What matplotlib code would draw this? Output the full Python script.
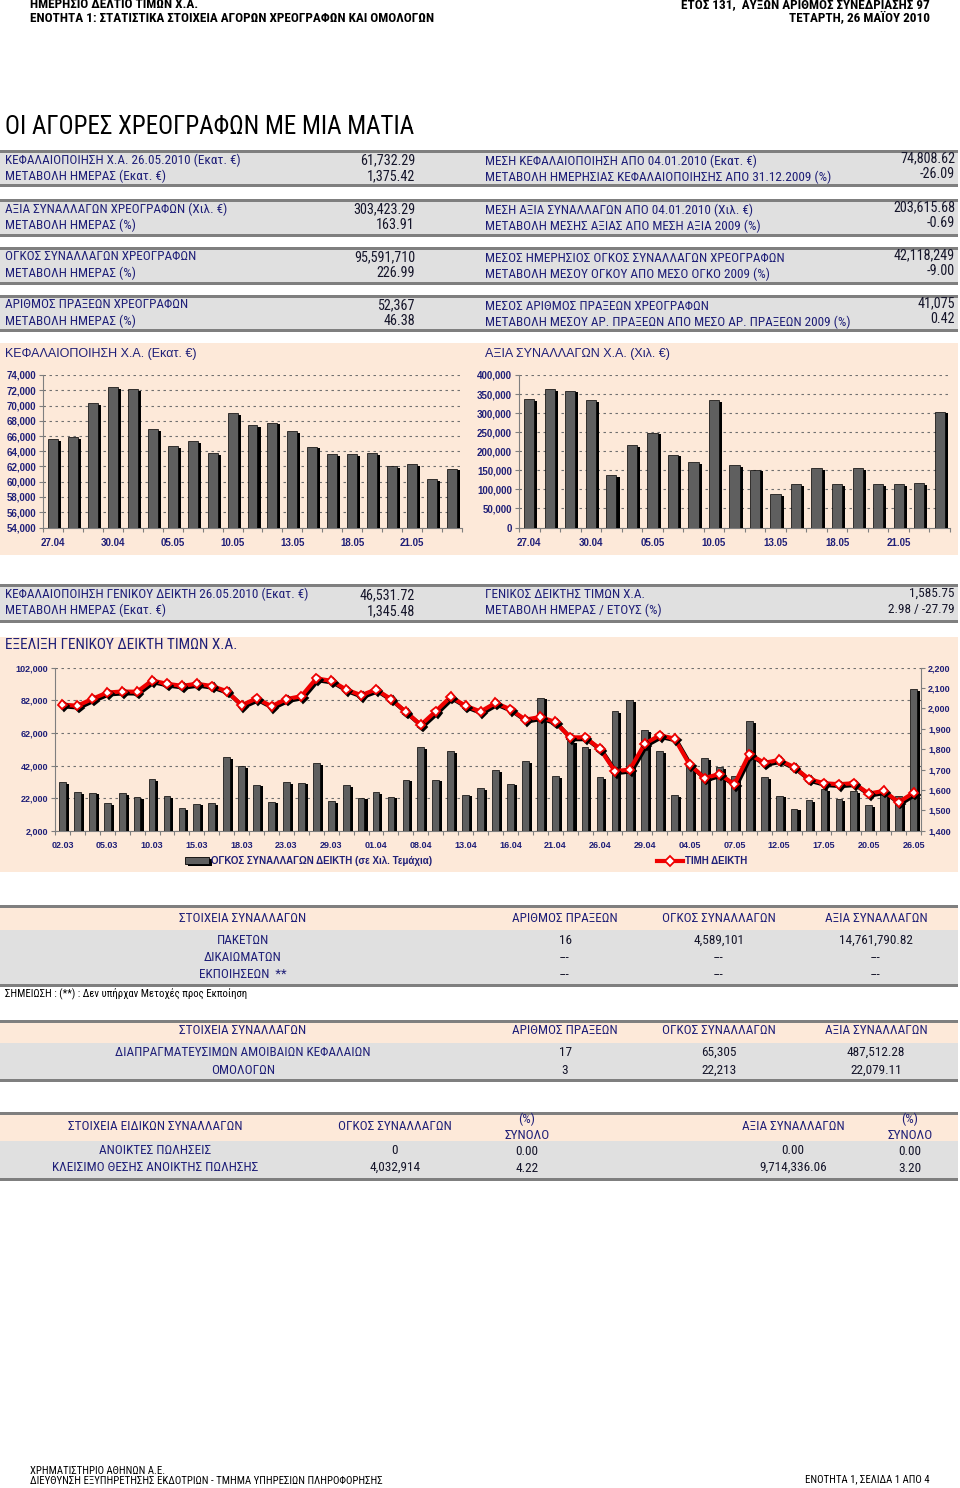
import numpy as np
import matplotlib
matplotlib.use('Agg')
import matplotlib.pyplot as plt
from matplotlib import font_manager, patheffects as pe
from matplotlib.font_manager import FontProperties
from matplotlib.patches import Rectangle
from matplotlib.lines import Line2D

SANS = 'Liberation Sans'
plt.rcParams['font.family'] = [SANS, 'DejaVu Sans']


# look for a condensed face for the table text (Arial Narrow look)
def wnum(w):
    if isinstance(w, int):
        return w
    return {'bold': 700, 'normal': 400, 'regular': 400, 'book': 400}.get(str(w).lower(), 400)


def find_narrow():
    pref = [('Liberation Sans Narrow', 1.2), ('Roboto Condensed', 1.12), ('Open Sans Condensed', 1.1),
            ('Noto Sans', 1.12), ('Open Sans', 1.1), ('Roboto', 1.12), ('Inter', 1.1),
            ('DejaVu Sans Condensed', 1.0), ('DejaVu Sans', 1.0)]
    fl = font_manager.fontManager.ttflist
    for fam, k in pref:
        narrow_name = 'Narrow' in fam or 'Condensed' in fam
        reg = bold = None
        for f in fl:
            if f.name != fam or f.style != 'normal':
                continue
            if not narrow_name and f.stretch in ('normal', 500):
                continue
            if f.stretch in ('ultra-condensed', 'extra-condensed'):
                continue
            w = wnum(f.weight)
            if w == 400 and reg is None:
                reg = f.fname
            if w == 700 and bold is None:
                bold = f.fname
        if reg:
            return reg, bold or reg, k
    return None, None, 1.0


NREG, NBOLD, NK = find_narrow()
NK *= 1.07

NAVY = '#1f1f78'
INK = '#15152a'
PEACH = '#fde9d9'
ROWG = '#e0e0e0'
LINEG = '#7f7f7f'
BARC = '#5f5f5f'

# ---- data ----
top_left_labels = ['ΚΕΦΑΛΑΙΟΠΟΙΗΣΗ Χ.Α. 26.05.2010 (Εκατ. €)', 'ΜΕΤΑΒΟΛΗ ΗΜΕΡΑΣ (Εκατ. €)',
                   'ΑΞΙΑ ΣΥΝΑΛΛΑΓΩΝ ΧΡΕΟΓΡΑΦΩΝ (Χιλ. €)', 'ΜΕΤΑΒΟΛΗ ΗΜΕΡΑΣ (%)',
                   'ΟΓΚΟΣ ΣΥΝΑΛΛΑΓΩΝ ΧΡΕΟΓΡΑΦΩΝ', 'ΜΕΤΑΒΟΛΗ ΗΜΕΡΑΣ (%)',
                   'ΑΡΙΘΜΟΣ ΠΡΑΞΕΩΝ ΧΡΕΟΓΡΑΦΩΝ', 'ΜΕΤΑΒΟΛΗ ΗΜΕΡΑΣ (%)']
top_left_values = ['61,732.29', '1,375.42', '303,423.29', '163.91',
                   '95,591,710', '226.99', '52,367', '46.38']
top_right_labels = ['ΜΕΣΗ ΚΕΦΑΛΑΙΟΠΟΙΗΣΗ ΑΠΟ 04.01.2010 (Εκατ. €)',
                    'ΜΕΤΑΒΟΛΗ ΗΜΕΡΗΣΙΑΣ ΚΕΦΑΛΑΙΟΠΟΙΗΣΗΣ ΑΠΟ 31.12.2009 (%)',
                    'ΜΕΣΗ ΑΞΙΑ ΣΥΝΑΛΛΑΓΩΝ ΑΠΟ 04.01.2010 (Χιλ. €)',
                    'ΜΕΤΑΒΟΛΗ ΜΕΣΗΣ ΑΞΙΑΣ ΑΠΟ ΜΕΣΗ ΑΞΙΑ 2009 (%)',
                    'ΜΕΣΟΣ ΗΜΕΡΗΣΙΟΣ ΟΓΚΟΣ ΣΥΝΑΛΛΑΓΩΝ ΧΡΕΟΓΡΑΦΩΝ',
                    'ΜΕΤΑΒΟΛΗ ΜΕΣΟΥ ΟΓΚΟΥ ΑΠΟ ΜΕΣΟ ΟΓΚΟ 2009 (%)',
                    'ΜΕΣΟΣ ΑΡΙΘΜΟΣ ΠΡΑΞΕΩΝ ΧΡΕΟΓΡΑΦΩΝ',
                    'ΜΕΤΑΒΟΛΗ ΜΕΣΟΥ ΑΡ. ΠΡΑΞΕΩΝ ΑΠΟ ΜΕΣΟ ΑΡ. ΠΡΑΞΕΩΝ 2009 (%)']
top_right_values = ['74,808.62', '-26.09', '203,615.68', '-0.69',
                    '42,118,249', '-9.00', '41,075', '0.42']

dates_top = ['27.04', '28.04', '29.04', '30.04', '03.05', '04.05', '05.05', '06.05',
             '07.05', '10.05', '11.05', '12.05', '13.05', '14.05', '17.05', '18.05',
             '19.05', '20.05', '21.05', '25.05', '26.05']
cap_values = [65550, 65860, 70280, 72400, 72100, 66910, 64630, 65290, 63720, 69010,
              67390, 67740, 66650, 64590, 63630, 63590, 63760, 62030, 62320, 60350, 61732]
value_values = [336400, 363400, 359000, 334600, 137700, 215300, 248400, 190800, 171700,
                333800, 163800, 151600, 88000, 114200, 156000, 114200, 155100, 114200,
                114200, 115900, 303423]

gi_left_labels = ['ΚΕΦΑΛΑΙΟΠΟΙΗΣΗ ΓΕΝΙΚΟΥ ΔΕΙΚΤΗ 26.05.2010 (Εκατ. €)', 'ΜΕΤΑΒΟΛΗ ΗΜΕΡΑΣ (Εκατ. €)']
gi_left_values = ['46,531.72', '1,345.48']
gi_right_labels = ['ΓΕΝΙΚΟΣ ΔΕΙΚΤΗΣ ΤΙΜΩΝ Χ.Α.', 'ΜΕΤΑΒΟΛΗ ΗΜΕΡΑΣ / ΕΤΟΥΣ (%)']
gi_right_values = ['1,585.75', '2.98 / -27.79']

dates_idx = ['02.03', '03.03', '04.03', '05.03', '08.03', '09.03', '10.03', '11.03', '12.03',
             '15.03', '16.03', '17.03', '18.03', '19.03', '22.03', '23.03', '24.03', '26.03',
             '29.03', '30.03', '31.03', '01.04', '06.04', '07.04', '08.04', '09.04', '12.04',
             '13.04', '14.04', '15.04', '16.04', '19.04', '20.04', '21.04', '22.04', '23.04',
             '26.04', '27.04', '28.04', '29.04', '30.04', '03.05', '04.05', '05.05', '06.05',
             '07.05', '10.05', '11.05', '12.05', '13.05', '14.05', '17.05', '18.05', '19.05',
             '20.05', '21.05', '25.05', '26.05']
idx_volume = [31650, 25700, 25300, 18800, 24900, 22650, 33500, 23060, 15700, 18560,
              18770, 47000, 41670, 30220, 19800, 31650, 31450, 43500, 20200, 30000,
              22250, 25500, 22860, 33300, 53100, 33300, 50900, 24100, 28200, 39200,
              30800, 44700, 83600, 35500, 57000, 53100, 34700, 75400, 82000, 63800,
              50700, 23700, 41300, 46400, 40900, 35300, 69300, 34700, 23500, 15500,
              20800, 27400, 21200, 26300, 17700, 25300, 23100, 88900]
idx_price = [2019, 2013, 2047, 2078, 2083, 2082, 2137, 2121, 2111, 2121,
             2110, 2085, 2016, 2049, 2011, 2046, 2060, 2147, 2136, 2093,
             2065, 2093, 2046, 1983, 1919, 1986, 2057, 2013, 1985, 2027,
             1996, 1945, 1958, 1934, 1858, 1858, 1802, 1692, 1700, 1827,
             1868, 1852, 1725, 1658, 1678, 1627, 1776, 1733, 1747, 1712,
             1653, 1633, 1628, 1633, 1582, 1595, 1540, 1585.75]

trade_cols = ['ΣΤΟΙΧΕΙΑ ΣΥΝΑΛΛΑΓΩΝ', 'ΑΡΙΘΜΟΣ ΠΡΑΞΕΩΝ', 'ΟΓΚΟΣ ΣΥΝΑΛΛΑΓΩΝ', 'ΑΞΙΑ ΣΥΝΑΛΛΑΓΩΝ']
trade_rows = ['ΠΑΚΕΤΩΝ', 'ΔΙΚΑΙΩΜΑΤΩΝ', 'ΕΚΠΟΙΗΣΕΩΝ  **']
trade_vals = [['16', '4,589,101', '14,761,790.82'], ['---', '---', '---'], ['---', '---', '---']]
fund_rows = ['ΔΙΑΠΡΑΓΜΑΤΕΥΣΙΜΩΝ ΑΜΟΙΒΑΙΩΝ ΚΕΦΑΛΑΙΩΝ', 'ΟΜΟΛΟΓΩΝ']
fund_vals = [['17', '65,305', '487,512.28'], ['3', '22,213', '22,079.11']]
spec_cols = ['ΣΤΟΙΧΕΙΑ ΕΙΔΙΚΩΝ ΣΥΝΑΛΛΑΓΩΝ', 'ΟΓΚΟΣ ΣΥΝΑΛΛΑΓΩΝ', '(%)\nΣΥΝΟΛΟ', 'ΑΞΙΑ ΣΥΝΑΛΛΑΓΩΝ', '(%)\nΣΥΝΟΛΟ']
spec_rows = ['ΑΝΟΙΚΤΕΣ ΠΩΛΗΣΕΙΣ', 'ΚΛΕΙΣΙΜΟ ΘΕΣΗΣ ΑΝΟΙΚΤΗΣ ΠΩΛΗΣΗΣ']
spec_vals = [['0', '0.00', '0.00', '0.00'], ['4,032,914', '4.22', '9,714,336.06', '3.20']]

# ---- page ----
W, H = 960, 1488
fig = plt.figure(figsize=(9.6, 14.88), dpi=100)
pg = fig.add_axes([0, 0, 1, 1], zorder=0)
pg.set_xlim(0, W)
pg.set_ylim(H, 0)
pg.axis('off')


def box(x0, y0, x1, y1):
    return [x0 / W, 1 - y1 / H, (x1 - x0) / W, (y1 - y0) / H]


def rect(x0, y0, x1, y1, c):
    pg.add_patch(Rectangle((x0, y0), x1 - x0, y1 - y0, facecolor=c, edgecolor='none'))


def hline(y):
    rect(0, y - 1.5, 958, y + 1.5, LINEG)


def t(x, y, s, size=8, color=NAVY, ha='left', weight='normal', narrow=True):
    if narrow and NREG:
        fp = FontProperties(fname=NBOLD if weight == 'bold' else NREG, size=size * NK)
        pg.text(x, y, s, ha=ha, va='center', color=color, fontproperties=fp, linespacing=1.3)
    else:
        pg.text(x, y, s, ha=ha, va='center', fontsize=size, color=color,
                fontweight=weight, family=[SANS, 'DejaVu Sans'], linespacing=1.3)


# header
t(30, 5, 'ΗΜΕΡΗΣΙΟ ΔΕΛΤΙΟ ΤΙΜΩΝ Χ.Α.', 8, 'k', weight='bold')
t(930, 5, 'ΕΤΟΣ 131,  ΑΥΞΩΝ ΑΡΙΘΜΟΣ ΣΥΝΕΔΡΙΑΣΗΣ 97', 8, 'k', 'right', 'bold')
t(30, 19, 'ΕΝΟΤΗΤΑ 1: ΣΤΑΤΙΣΤΙΚΑ ΣΤΟΙΧΕΙΑ ΑΓΟΡΩΝ ΧΡΕΟΓΡΑΦΩΝ ΚΑΙ ΟΜΟΛΟΓΩΝ', 8, 'k', weight='bold')
t(930, 19, 'ΤΕΤΑΡΤΗ, 26 ΜΑΪΟΥ 2010', 8, 'k', 'right', 'bold')
t(5, 127, 'ΟΙ ΑΓΟΡΕΣ ΧΡΕΟΓΡΑΦΩΝ ΜΕ ΜΙΑ ΜΑΤΙΑ', 15, 'k')

# top summary blocks
blocks = [(151, 185), (200, 235), (248, 283), (296, 330)]
for b, (y0, y1) in enumerate(blocks):
    rect(0, y0, 958, y1, ROWG)
    hline(y0)
    hline(y1)
    for r in range(2):
        k = 2 * b + r
        y = y0 + 9 + 16 * r
        t(5, y, top_left_labels[k], 8)
        t(415, y, top_left_values[k], 8.5, INK, 'right')
        t(485, y + 1, top_right_labels[k], 8)
        t(955, y - 2, top_right_values[k], 8.5, INK, 'right')

# chart band 1
rect(0, 343, 958, 555, PEACH)
t(5, 354, 'ΚΕΦΑΛΑΙΟΠΟΙΗΣΗ Χ.Α. (Εκατ. €)', 9, narrow=False)
t(485, 354, 'ΑΞΙΑ ΣΥΝΑΛΛΑΓΩΝ Χ.Α. (Χιλ. €)', 9, narrow=False)

bar_fx = [pe.SimplePatchShadow(offset=(2.2, -1.2), shadow_rgbFace='k', alpha=1), pe.Normal()]


def style_axis(ax, size=7, pad=6):
    ax.set_facecolor('none')
    for s in ['top', 'right']:
        ax.spines[s].set_visible(False)
    for s in ['left', 'bottom']:
        ax.spines[s].set_color(LINEG)
        ax.spines[s].set_linewidth(0.8)
    ax.tick_params(axis='y', length=3, color=LINEG, labelcolor=NAVY, labelsize=size, pad=2)
    ax.tick_params(axis='x', which='major', length=0, labelcolor=NAVY, labelsize=size, pad=pad)
    ax.tick_params(axis='x', which='minor', length=3, color=LINEG, width=0.8)
    ax.yaxis.grid(True, linestyle=(0, (2.2, 3.2)), color='#6f6f6f', linewidth=0.8)
    ax.set_axisbelow(True)


def bar_panel(rect_px, values, dates, ylim, step):
    ax = fig.add_axes(box(*rect_px), zorder=2)
    x = np.arange(len(values))
    bars = ax.bar(x, values, width=0.5, color=BARC, edgecolor='k', linewidth=0.5, zorder=3)
    for b in bars:
        b.set_path_effects(bar_fx)
    ax.set_xlim(-0.5, len(values) - 0.5)
    ax.set_ylim(*ylim)
    ticks = np.arange(ylim[0], ylim[1] + 1, step)
    ax.set_yticks(ticks)
    ax.set_yticklabels([f'{v:,.0f}' for v in ticks], fontweight='bold')
    ax.set_xticks(x[::3])
    ax.set_xticklabels(dates[::3], fontweight='bold')
    ax.set_xticks(np.arange(-0.5, len(values)), minor=True)
    style_axis(ax, 7, 7.5)
    return ax


bar_panel((43, 375, 462, 527.5), cap_values, dates_top, (54000, 74000), 2000)
bar_panel((519, 375, 950, 527.5), value_values, dates_top, (0, 400000), 50000)

# general index summary block
rect(0, 585, 958, 621, ROWG)
hline(585)
hline(621)
for r in range(2):
    y = 594 + 16 * r
    t(5, y, gi_left_labels[r], 8)
    t(415, y + 1, gi_left_values[r], 8.5, INK, 'right')
    t(485, y, gi_right_labels[r], 8)
    t(955, y - 1, gi_right_values[r], 8, INK, 'right')

# chart band 2 : general index
rect(0, 637, 958, 872, PEACH)
t(5, 645, 'ΕΞΕΛΙΞΗ ΓΕΝΙΚΟΥ ΔΕΙΚΤΗ ΤΙΜΩΝ Χ.Α.', 9.2)

ax = fig.add_axes(box(55, 667.7, 921, 830.7), zorder=2)
xi = np.arange(len(idx_volume))
vb = ax.bar(xi, idx_volume, width=0.45, color=BARC, edgecolor='k', linewidth=0.5, zorder=3)
for b in vb:
    b.set_path_effects(bar_fx)
ax.set_xlim(-0.5, len(idx_volume) - 0.5)
ax.set_ylim(2000, 102000)
lt = np.arange(2000, 102001, 20000)
ax.set_yticks(lt)
ax.set_yticklabels([f'{v:,}' for v in lt], fontweight='bold')
ax.set_xticks(xi[::3])
ax.set_xticklabels(dates_idx[::3], fontweight='bold')
ax.set_xticks(np.arange(-0.5, len(idx_volume)), minor=True)
style_axis(ax, 6.5, 7.5)


class DropShadow(pe.AbstractPathEffect):
    # black copy of line and markers, offset down-right
    def draw_path(self, renderer, gc, tpath, affine, rgbFace=None):
        gc0 = renderer.new_gc()
        gc0.copy_properties(gc)
        gc0.set_foreground('k')
        face = None if rgbFace is None else (0, 0, 0)
        renderer.draw_path(gc0, tpath, affine + self._offset_transform(renderer), face)
        gc0.restore()


ax2 = ax.twinx()
ax2.set_zorder(3)
ax2.set_facecolor('none')
ax2.plot(xi, idx_price, color='#f00000', lw=3, marker='D', ms=4.6, mfc='white',
         mec='#f00000', mew=1.3, zorder=4,
         path_effects=[DropShadow(offset=(1.3, -1.3)), pe.Normal()])
ax2.set_ylim(1400, 2200)
rt = np.arange(1400, 2201, 100)
ax2.set_yticks(rt)
ax2.set_yticklabels([f'{v:,}' for v in rt], fontweight='bold')
for s in ['top', 'left', 'bottom']:
    ax2.spines[s].set_visible(False)
ax2.spines['right'].set_color(LINEG)
ax2.spines['right'].set_linewidth(0.8)
ax2.tick_params(axis='y', length=3, color=LINEG, labelcolor=NAVY, labelsize=6.5, pad=2)

# legend for index chart
pg.add_patch(Rectangle((185, 857), 24, 7, facecolor=BARC, edgecolor='k', linewidth=0.6,
                       path_effects=bar_fx))
t(211, 861, 'ΟΓΚΟΣ ΣΥΝΑΛΛΑΓΩΝ ΔΕΙΚΤΗ (σε Χιλ. Τεμάχια)', 7, weight='bold', narrow=False)
pg.add_line(Line2D([657, 683], [861, 861], color='#f00000', lw=3))
pg.add_line(Line2D([670], [861], marker='D', ms=4.6, mfc='white', mec='#f00000', mew=1.3))
t(685, 861, 'ΤΙΜΗ ΔΕΙΚΤΗ', 7, weight='bold', narrow=False)

# trades table
col_x = [243, 565, 719, 876]
rect(0, 906, 958, 930, PEACH)
rect(0, 930, 958, 985, ROWG)
hline(906)
hline(985)
for c, name in enumerate(trade_cols):
    t(col_x[c], 918, name, 8, ha='center')
for r, name in enumerate(trade_rows):
    y = 940 + 17.5 * r
    t(col_x[0], y, name, 8, ha='center')
    for c, v in enumerate(trade_vals[r]):
        t(col_x[c + 1], y, v, 8, INK, 'center')
t(5, 993, 'ΣΗΜΕΙΩΣΗ : (**) : Δεν υπήρχαν Μετοχές προς Εκποίηση', 6.5, 'k')

# funds / bonds table
rect(0, 1021, 958, 1043, PEACH)
rect(0, 1043, 958, 1080, ROWG)
hline(1021)
hline(1080)
for c, name in enumerate(trade_cols):
    t(col_x[c], 1031, name, 8, ha='center')
for r, name in enumerate(fund_rows):
    y = 1052 + 18 * r
    t(col_x[0], y, name, 8, ha='center')
    for c, v in enumerate(fund_vals[r]):
        t(col_x[c + 1], y, v, 8, INK, 'center')

# special transactions table
spec_x = [155, 395, 527, 793, 910]
rect(0, 1114, 958, 1141, PEACH)
rect(0, 1141, 958, 1178, ROWG)
hline(1113)
hline(1179)
for c, name in enumerate(spec_cols):
    t(spec_x[c], 1127, name, 8, ha='center')
for r, name in enumerate(spec_rows):
    y = 1150 + 17.5 * r
    t(spec_x[0], y, name, 8, ha='center')
    for c, v in enumerate(spec_vals[r]):
        dy = 1.5 if c in (1, 3) else 0
        t(spec_x[c + 1], y + dy, v, 8, INK, 'center')

# footer
t(30, 1471, 'ΧΡΗΜΑΤΙΣΤΗΡΙΟ ΑΘΗΝΩΝ Α.Ε.', 6.5, 'k')
t(30, 1481, 'ΔΙΕΥΘΥΝΣΗ ΕΞΥΠΗΡΕΤΗΣΗΣ ΕΚΔΟΤΡΙΩΝ - ΤΜΗΜΑ ΥΠΗΡΕΣΙΩΝ ΠΛΗΡΟΦΟΡΗΣΗΣ', 6.5, 'k')
t(930, 1479, 'ΕΝΟΤΗΤΑ 1, ΣΕΛΙΔΑ 1 ΑΠΟ 4', 6.5, 'k', 'right')

fig.savefig('out.png', dpi=100, facecolor='white')
